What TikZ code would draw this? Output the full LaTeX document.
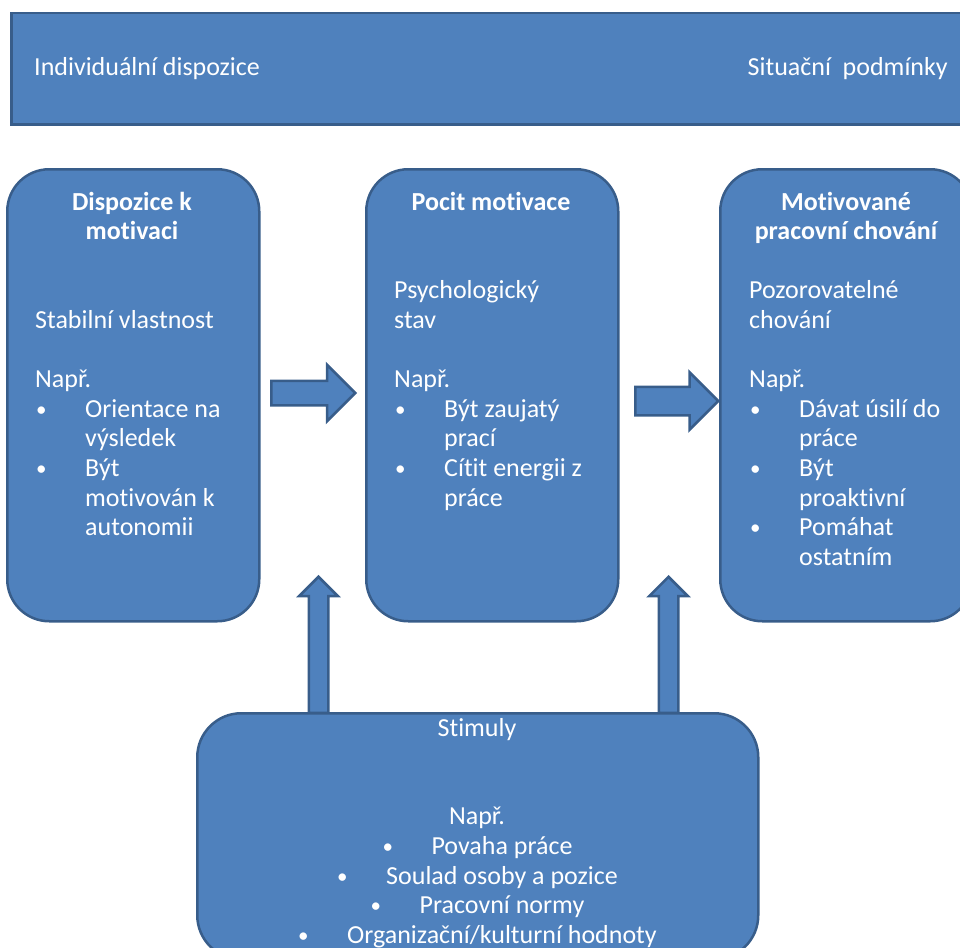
\documentclass[tikz,border=0pt]{standalone}
\usepackage{fontspec}
\setmainfont{Carlito}[Ligatures=NoCommon]
\usepackage{tikz}
\usetikzlibrary{shapes.arrows}
\definecolor{boxfill}{HTML}{4F81BD}
\definecolor{boxline}{HTML}{385D8A}
\newcommand{\itm}[1]{\makebox[50pt][l]{\hspace{1pt}\raisebox{1pt}{\fontsize{21}{21}\selectfont •}}#1}
\newcommand{\cnt}[1]{\hspace*{50pt}#1}

\begin{document}
\begin{tikzpicture}[x=1pt, y=-1pt,
        box/.style={rectangle, draw=boxline, fill=boxfill, line width=2.5pt, rounded corners=42pt,
            minimum width=252pt, minimum height=452pt, anchor=north west, inner sep=0pt},
        barrow/.style={single arrow, draw=boxline, fill=boxfill, line width=2.5pt, inner xsep=0pt,
            single arrow head indent=0pt, single arrow tip angle=90, anchor=tail},
        txt/.style={text=white, inner sep=0pt, font=\fontsize{26}{29.6}\selectfont},
        title/.style={txt, align=center, anchor=base, font=\fontsize{26}{29.6}\selectfont\bfseries},
        body/.style={txt, align=left, anchor=base west}]
        \clip (0, 0) rectangle (960, 947);

        \node[draw=boxline, fill=boxfill, line width=2.5pt, minimum width=1000pt, minimum height=111pt,
            anchor=north west] (banner) at (10, 12) {};
        \node[txt, anchor=base west] (indiv) at (34, 76) {Individuální dispozice};
        \node[txt, anchor=base east] (situ) at (948, 76) {Situační\ \ podmínky};

        \node[box] (dispozice) at (6, 168) {};
        \node[box] (pocit) at (365, 168) {};
        \node[box] (chovani) at (719, 168) {};

        % multi-line nodes sit on the baseline of their last line
        \node[title] (dispozicetitle) at (132, 239.6) {Dispozice k\\motivaci};
        \node[body] (dispozicebody) at (35, 535.6)
            {Stabilní vlastnost\\[29.6pt]Např.\\\itm{Orientace na}\\\cnt{výsledek}\\\itm{Být}\\\cnt{motivován k}\\\cnt{autonomii}};

        \node[title] (pocittitle) at (491, 210) {Pocit motivace};
        \node[body] (pocitbody) at (394, 506)
            {Psychologický\\stav\\[29.6pt]Např.\\\itm{Být zaujatý}\\\cnt{prací}\\\itm{Cítit energii z}\\\cnt{práce}};

        \node[title] (chovanititle) at (846, 239.6) {Motivované\\pracovní chování};
        \node[body] (chovanibody) at (749, 565.2)
            {Pozorovatelné\\chování\\[29.6pt]Např.\\\itm{Dávat úsilí do}\\\cnt{práce}\\\itm{Být}\\\cnt{proaktivní}\\\itm{Pomáhat}\\\cnt{ostatním}};

        \node[barrow, minimum height=84pt, inner ysep=11pt, single arrow head extend=16pt] (arrA) at (270, 393) {};
        \node[barrow, minimum height=83pt, inner ysep=13pt, single arrow head extend=14.5pt] (arrB) at (634, 401) {};

        \node[barrow, rotate=90, minimum height=136pt, inner ysep=8.5pt, single arrow head extend=9.5pt] (upA) at (318.5, 714) {};
        \node[barrow, rotate=90, minimum height=136pt, inner ysep=8.5pt, single arrow head extend=9.5pt] (upB) at (668.5, 714) {};

        \node[draw=boxline, fill=boxfill, line width=2.5pt, rounded corners=44pt, minimum width=561pt,
            minimum height=246pt, anchor=north west] (stimuly) at (196, 712) {};
        \node[txt, anchor=base] (stimulytitle) at (477, 736) {Stimuly};
        \node[txt, align=center, anchor=base] (stimulybody) at (477, 943.2)
            {Např.\\\itm{Povaha práce}\\\itm{Soulad osoby a pozice}\\\itm{Pracovní normy}\\\itm{Organizační/kulturní hodnoty}};
    \end{tikzpicture}
\end{document}
